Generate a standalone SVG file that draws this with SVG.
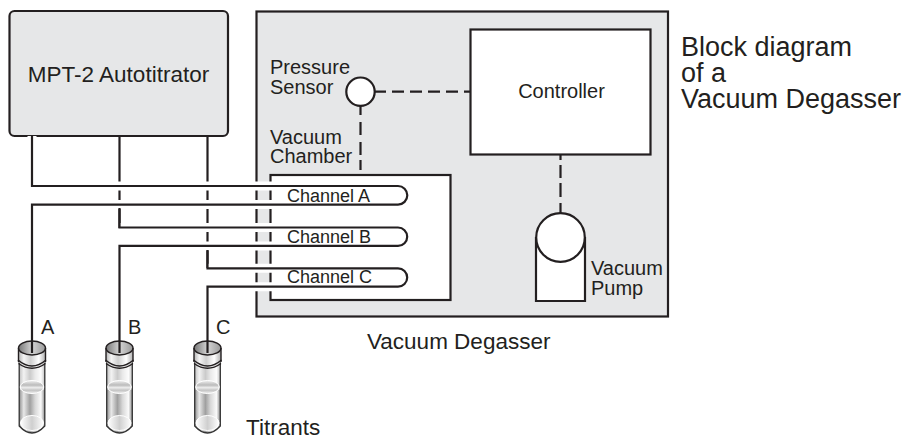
<svg xmlns="http://www.w3.org/2000/svg" width="904" height="435" viewBox="0 0 904 435">
<style>
text{font-family:"Liberation Sans",Arial,sans-serif;fill:#231f20}
.s{stroke:#231f20;stroke-width:2.2;fill:none}
.g{fill:#e6e7e8}
.w{fill:#fff}
.h{stroke:#fff;stroke-width:9;fill:none}
.c{stroke:#231f20;stroke-width:2.2;fill:none}
.t18{font-size:18px}
.t20{font-size:20px}
.t22{font-size:22.500px}
.t27{font-size:27px}
.thin{stroke:#231f20;stroke-width:1.4;fill:none}
.side{stroke:#333;stroke-width:1.300;fill:none}
</style>
<defs>
<linearGradient id="v"><stop offset="0" stop-color="#8f8f8f"/><stop offset=".18" stop-color="#e8e8e8"/><stop offset=".42" stop-color="#a0a0a0"/><stop offset=".62" stop-color="#d8d8d8"/><stop offset=".85" stop-color="#fafafa"/><stop offset="1" stop-color="#8f8f8f"/></linearGradient>
<linearGradient id="n"><stop offset="0" stop-color="#b5b5b5"/><stop offset=".2" stop-color="#f5f5f5"/><stop offset=".45" stop-color="#cfcfcf"/><stop offset=".75" stop-color="#fff"/><stop offset="1" stop-color="#b0b0b0"/></linearGradient>
<linearGradient id="l" x1="0" y1="0" x2="0" y2="1"><stop offset="0" stop-color="#f0f0f0"/><stop offset=".35" stop-color="#bbb"/><stop offset=".55" stop-color="#ececec"/><stop offset=".75" stop-color="#c4c4c4"/><stop offset="1" stop-color="#efefef"/></linearGradient>
<linearGradient id="b"><stop offset="0" stop-color="#fff"/><stop offset=".5" stop-color="#cfcfcf"/><stop offset="1" stop-color="#fff"/></linearGradient>
<linearGradient id="m"><stop offset="0" stop-color="#777"/><stop offset=".5" stop-color="#d5d5d5"/><stop offset="1" stop-color="#999"/></linearGradient>
<g id="vial">
<path d="M-12.800 14V78Q0 92 12.800 78V14Z" fill="url(#v)"/>
<path d="M-12.800 14V42H12.800V14Q0 22 -12.800 14Z" fill="#fff" opacity=".45"/>
<path d="M-12.800 14V78Q0 92 12.800 78V14" class="side"/>
<ellipse cx="0" cy="39" rx="11.800" ry="6.500" fill="url(#l)" stroke="#fff" stroke-width="1"/>
<ellipse cx="0" cy="75" rx="11.500" ry="7.500" fill="url(#b)" stroke="#fff" stroke-width="1"/>
<path d="M-13.500 0V14Q0 26 13.500 14V0Z" fill="url(#n)"/>
<ellipse cx="0" cy="0" rx="13.500" ry="7" fill="url(#m)" class="thin" style="fill:url(#m)"/>
<path d="M-13.500 0V14M13.500 0V14" class="thin"/>
<path d="M-14 12Q0 24 14 12" class="thin"/>
<path d="M-13.500 15.500Q0 25 13.500 15.500" class="thin"/>
</g>
</defs>
<g id="autotitrator"><rect x="9.500" y="11" width="218.500" height="125" rx="5" class="s g"/><text x="118.500" y="82" text-anchor="middle" class="t22">MPT-2 Autotitrator</text></g>
<g id="degasser"><rect x="256.500" y="11.500" width="411.500" height="305" class="s g"/><text x="367" y="349" class="t22">Vacuum Degasser</text></g>
<g id="controller"><rect x="470.500" y="29.500" width="180" height="125" class="s w"/><text x="561.500" y="98" text-anchor="middle" class="t20">Controller</text></g>
<g id="chamber"><rect x="270.500" y="175" width="180" height="125" class="s w"/><text x="270" y="144" class="t20">Vacuum</text><text x="270" y="163" class="t20">Chamber</text></g>
<g id="sensor"><circle cx="360.500" cy="91.700" r="14.200" class="s w"/><text x="270" y="74" class="t20">Pressure</text><text x="270" y="94" class="t20">Sensor</text></g>
<g id="pump"><path d="M536 237V301H585V237" class="s w"/><circle cx="560.500" cy="237.500" r="24.300" class="s w"/><text x="591" y="275" class="t20">Vacuum</text><text x="591" y="295" class="t20">Pump</text></g>
<g id="connectors">
<path d="M374 91.700H386M392 91.700H404M410 91.700H422M428 91.700H440M446 91.700H458M464 91.700H470M360.500 106V115M360.500 122V135M360.500 142V155M360.500 160V170M560.500 155V160M560.500 165V178M560.500 183V197M560.500 203V213" class="s"/>
<path d="M119.500 136V228M207.500 136V268" class="s"/>
<path d="M32 136V186H398A9.300 9.300 0 0 1 398 204.600H32V340M119.500 227.500H398A9.200 9.200 0 0 1 398 245.900H119.500V340M207.500 268.300H398A9.200 9.200 0 0 1 398 286.700H207.500V340" class="h"/>
<path d="M32 136V186H398A9.300 9.300 0 0 1 398 204.600H32V340M119.500 208V227.500H398A9.200 9.200 0 0 1 398 245.900H119.500V340M207.500 250V268.300H398A9.200 9.200 0 0 1 398 286.700H207.500V340" class="c"/>
</g>
<g id="channel-labels"><text x="287" y="202" class="t18">Channel A</text><text x="287" y="243" class="t18">Channel B</text><text x="287" y="283" class="t18">Channel C</text></g>
<g id="vials"><g id="vial-a"><use href="#vial" x="32" y="348"/><text x="41" y="334" class="t20">A</text></g><g id="vial-b"><use href="#vial" x="119.500" y="348"/><text x="128" y="334" class="t20">B</text></g><g id="vial-c"><use href="#vial" x="207.500" y="348"/><text x="216" y="334" class="t20">C</text></g>
<path d="M32 340V353M119.500 340V353M207.500 340V353" class="s"/>
<text x="246" y="435" class="t22">Titrants</text></g>
<g id="title"><text x="681" y="56" class="t27">Block diagram</text><text x="681" y="82" class="t27">of a</text><text x="681" y="108" class="t27">Vacuum Degasser</text></g>
</svg>
